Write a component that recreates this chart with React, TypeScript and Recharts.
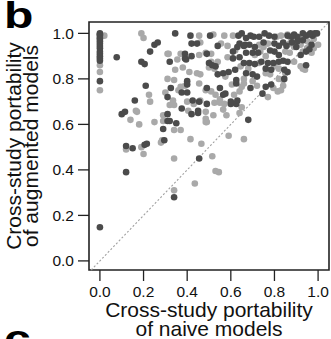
import { FC } from "react"
import {
    Label,
    ReferenceArea,
    ReferenceLine,
    Scatter,
    ScatterChart,
    XAxis,
    YAxis,
} from "recharts"

// [naive, augmented] pairs
const darkPoints: [number, number][] = [
    [0, 1.0], [0, 0.995], [0, 0.99], [0, 0.98], [0, 0.975], [0, 0.965], [0, 0.955],
    [0, 0.945], [0, 0.935], [0, 0.92], [0, 0.91], [0, 0.9], [0, 0.89], [0, 0.88],
    [0, 0.79], [0, 0.148],
    [0.077, 0.895], [0.19, 0.875], [0.205, 0.865], [0.21, 0.77], [0.25, 0.95],
    [0.265, 0.96], [0.23, 0.92], [0.16, 0.705], [0.31, 0.72], [0.1, 0.645],
    [0.115, 0.655], [0.31, 0.645], [0.31, 0.615], [0.29, 0.58], [0.12, 0.505],
    [0.15, 0.495], [0.205, 0.51], [0.215, 0.515], [0.295, 0.53], [0.12, 0.39],
    [0.34, 0.28], [0.455, 0.45], [0.68, 0.62],
    [0.32, 0.615], [0.35, 0.605], [0.375, 0.67], [0.42, 0.645], [0.45, 0.66],
    [0.45, 0.65], [0.455, 0.7], [0.49, 0.69], [0.6, 0.69], [0.625, 0.69],
    [0.345, 1.0], [0.415, 0.99], [0.505, 0.99], [0.635, 0.99], [0.65, 1.0],
    [0.42, 0.955], [0.445, 0.955], [0.54, 0.945], [0.63, 0.94], [0.64, 0.955],
    [0.665, 0.95], [0.39, 0.91], [0.39, 0.89], [0.395, 0.885], [0.42, 0.9],
    [0.49, 0.91], [0.61, 0.92], [0.61, 0.89], [0.64, 0.895], [0.32, 0.875],
    [0.5, 0.87], [0.515, 0.86], [0.53, 0.855], [0.54, 0.82], [0.565, 0.825],
    [0.59, 0.83], [0.62, 0.84], [0.325, 0.76], [0.4, 0.79], [0.4, 0.775],
    [0.375, 0.74], [0.4, 0.74], [0.425, 0.705], [0.49, 0.76], [0.565, 0.73],
    [0.575, 0.735], [0.55, 0.76], [0.6, 0.7], [0.63, 0.705], [0.625, 0.78],
    [0.625, 0.795],
    [0.67, 0.98], [0.69, 0.99], [0.705, 0.985], [0.73, 0.985], [0.755, 1.0],
    [0.775, 0.99], [0.8, 0.985], [0.89, 0.995], [0.905, 0.985], [0.93, 1.0],
    [0.945, 0.99], [0.965, 1.0], [0.975, 0.99], [0.985, 1.0], [0.995, 1.0],
    [0.96, 0.995], [0.88, 0.985], [0.86, 0.99], [0.66, 0.945], [0.685, 0.95],
    [0.71, 0.94], [0.8, 0.955], [0.82, 0.945], [0.84, 0.96], [0.855, 0.945],
    [0.88, 0.96], [0.905, 0.965], [0.93, 0.97], [0.67, 0.915], [0.7, 0.915],
    [0.725, 0.915], [0.8, 0.92], [0.82, 0.905], [0.92, 0.905], [0.945, 0.92],
    [0.66, 0.87], [0.685, 0.87], [0.71, 0.865], [0.74, 0.875], [0.77, 0.87],
    [0.795, 0.87], [0.82, 0.875], [0.84, 0.88], [0.86, 0.875], [0.945, 0.86],
    [0.67, 0.825], [0.72, 0.81], [0.7, 0.82], [0.76, 0.845], [0.785, 0.84],
    [0.845, 0.84], [0.86, 0.83], [0.76, 0.765], [0.785, 0.775], [0.845, 0.8],
    [0.69, 0.76], [0.745, 0.735], [0.96, 0.93], [0.97, 0.95], [0.9, 0.94],
    [0.75, 0.96], [0.78, 0.925],
]

const lightPoints: [number, number][] = [
    [0, 0.86], [0, 0.83], [0, 0.75], [0.02, 0.99],
    [0.19, 1.0], [0.2, 0.98], [0.31, 0.91], [0.3, 0.74], [0.225, 0.73], [0.23, 0.7],
    [0.17, 0.655], [0.14, 0.62], [0.18, 0.6], [0.25, 0.61], [0.29, 0.64],
    [0.29, 0.615], [0.12, 0.49], [0.19, 0.5], [0.2, 0.47], [0.28, 0.52],
    [0.285, 0.53], [0.165, 0.66],
    [0.34, 0.575], [0.37, 0.575], [0.34, 0.45], [0.34, 0.31], [0.415, 0.535],
    [0.465, 0.515], [0.435, 0.34], [0.515, 0.46], [0.53, 0.395], [0.545, 0.39],
    [0.59, 0.55], [0.66, 0.535], [0.485, 0.61], [0.405, 0.66], [0.43, 0.69],
    [0.485, 0.655], [0.485, 0.625], [0.49, 0.61], [0.52, 0.64], [0.525, 0.695],
    [0.55, 0.695], [0.565, 0.665], [0.58, 0.64], [0.57, 0.69], [0.64, 0.65],
    [0.65, 0.675], [0.32, 0.685], [0.34, 0.685], [0.4, 0.7],
    [0.455, 0.99], [0.52, 0.995], [0.57, 0.99], [0.61, 0.99], [0.46, 0.96],
    [0.555, 0.955], [0.585, 0.945], [0.315, 0.91], [0.37, 0.91], [0.455, 0.905],
    [0.485, 0.915], [0.51, 0.91], [0.62, 0.925], [0.585, 0.895], [0.355, 0.885],
    [0.345, 0.84], [0.38, 0.85], [0.41, 0.83], [0.51, 0.875], [0.54, 0.875],
    [0.5, 0.85], [0.525, 0.845], [0.575, 0.81], [0.445, 0.825], [0.46, 0.82],
    [0.645, 0.855], [0.31, 0.8], [0.34, 0.795], [0.39, 0.77], [0.37, 0.765],
    [0.455, 0.78], [0.36, 0.75], [0.335, 0.705], [0.46, 0.705], [0.485, 0.75],
    [0.51, 0.745], [0.53, 0.73], [0.55, 0.71], [0.615, 0.73], [0.64, 0.745],
    [0.65, 0.765], [0.66, 0.78], [0.605, 0.775],
    [0.81, 0.985], [0.83, 0.99], [0.86, 0.995], [0.875, 0.98], [0.73, 0.95],
    [0.75, 0.94], [0.77, 0.955], [0.87, 0.955], [0.89, 0.94], [0.92, 0.95],
    [0.95, 0.935], [0.98, 0.935], [1.0, 0.95], [0.97, 0.915], [0.71, 0.905],
    [0.735, 0.92], [0.76, 0.9], [0.85, 0.92], [0.87, 0.915], [0.93, 0.92],
    [0.73, 0.87], [0.8, 0.855], [0.89, 0.875], [0.92, 0.855], [0.68, 0.845],
    [0.76, 0.825], [0.78, 0.82], [0.82, 0.845], [0.85, 0.825], [0.93, 0.845],
    [0.94, 0.84], [0.66, 0.8], [0.82, 0.8], [0.84, 0.77], [0.815, 0.745],
    [0.83, 0.75], [0.77, 0.72], [0.795, 0.76], [0.84, 0.795], [0.7, 0.79],
    [0.72, 0.77], [0.98, 0.975], [0.95, 0.965], [0.915, 0.975],
]

const ticks = [0, 0.2, 0.4, 0.6, 0.8, 1.0]
const xTitle = ["Cross-study portability", "of naive models"]
const yTitle = ["Cross-study portability", "of augmented models"]

const FONT = "'Liberation Sans', Arial, Helvetica, sans-serif"
const DARK = "#4b4b4b"
const LIGHT = "#a9a9a9"

const toXY = (pts: [number, number][]) =>
    pts.map(([naive, augmented]) => ({ naive, augmented }))

const dot = (fill: string) => (p: any) =>
    <circle cx={p.cx} cy={p.cy} r={3.3} fill={fill} />

const App: FC = () => {
    return (
        <div
            style={{
                position: "absolute",
                left: 0,
                top: 0,
                width: 331,
                height: 339,
                overflow: "hidden",
                background: "#fff",
                fontFamily: FONT,
            }}
        >
            <ScatterChart
                width={331}
                height={339}
                margin={{ top: 22, right: 2, bottom: 39, left: 29 }}
            >
                <XAxis
                    type="number"
                    dataKey="naive"
                    domain={[-0.05, 1.05]}
                    ticks={ticks}
                    tickFormatter={(v: number) => v.toFixed(1)}
                    axisLine={false}
                    tickSize={11}
                    tickMargin={5}
                    height={30}
                    tickLine={{ stroke: "#222", strokeWidth: 1.3 }}
                    tick={{ fill: "#111", fontSize: 15.5, fontFamily: FONT }}
                >
                    <Label
                        content={({ viewBox }: any) => (
                            <text
                                x={viewBox.x + viewBox.width / 2}
                                y={viewBox.y + 47}
                                textAnchor="middle"
                                fontSize={21}
                                fontFamily={FONT}
                                fill="#111"
                            >
                                <tspan x={viewBox.x + viewBox.width / 2}>{xTitle[0]}</tspan>
                                <tspan x={viewBox.x + viewBox.width / 2} dy={19}>
                                    {xTitle[1]}
                                </tspan>
                            </text>
                        )}
                    />
                </XAxis>
                <YAxis
                    type="number"
                    dataKey="augmented"
                    domain={[-0.04, 1.05]}
                    ticks={ticks}
                    tickFormatter={(v: number) => v.toFixed(1)}
                    axisLine={false}
                    tickSize={11}
                    tickMargin={4}
                    width={60}
                    tickLine={{ stroke: "#222", strokeWidth: 1.3 }}
                    tick={{ fill: "#111", fontSize: 15.5, fontFamily: FONT }}
                >
                    <Label
                        content={({ viewBox }: any) => {
                            const cy = viewBox.y + viewBox.height / 2
                            return (
                                <g>
                                    <text
                                        x={21}
                                        y={cy}
                                        transform={`rotate(-90, 21, ${cy})`}
                                        textAnchor="middle"
                                        fontSize={21}
                                        fontFamily={FONT}
                                        fill="#111"
                                    >
                                        {yTitle[0]}
                                    </text>
                                    <text
                                        x={38}
                                        y={cy}
                                        transform={`rotate(-90, 38, ${cy})`}
                                        textAnchor="middle"
                                        fontSize={21}
                                        fontFamily={FONT}
                                        fill="#111"
                                    >
                                        {yTitle[1]}
                                    </text>
                                </g>
                            )
                        }}
                    />
                </YAxis>
                <ReferenceLine
                    segment={[
                        { x: -0.04, y: -0.04 },
                        { x: 1.05, y: 1.05 },
                    ]}
                    stroke="#a0a0a0"
                    strokeWidth={1.1}
                    strokeDasharray="2 2"
                />
                <Scatter
                    data={toXY(lightPoints)}
                    shape={dot(LIGHT)}
                    isAnimationActive={false}
                />
                <Scatter
                    data={toXY(darkPoints)}
                    shape={dot(DARK)}
                    isAnimationActive={false}
                />
                <ReferenceArea
                    x1={-0.05}
                    x2={1.05}
                    y1={-0.04}
                    y2={1.05}
                    fill="none"
                    fillOpacity={0}
                    stroke="#222"
                    strokeWidth={1.6}
                    ifOverflow="visible"
                />
            </ScatterChart>
            <svg
                width={331}
                height={339}
                style={{ position: "absolute", left: 0, top: 0, pointerEvents: "none" }}
            >
                <text x={4} y={28} fontSize={37} fontWeight="bold" fontFamily={FONT} fill="#000"
                    transform="translate(4 0) scale(1.3 1) translate(-4 0)">
                    b
                </text>
                <text x={4} y={351} fontSize={37} fontWeight="bold" fontFamily={FONT} fill="#000"
                    transform="translate(4 0) scale(1.3 1) translate(-4 0)">
                    c
                </text>
            </svg>
        </div>
    )
}

export default App
